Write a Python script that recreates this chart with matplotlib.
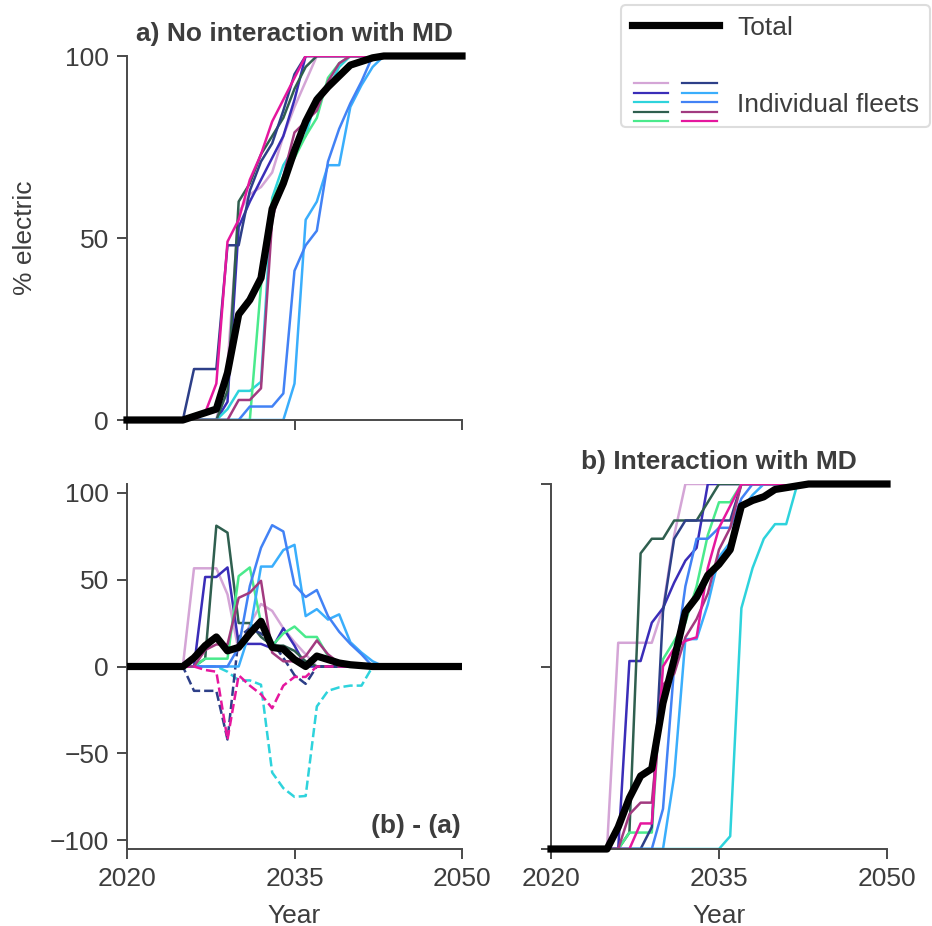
import matplotlib
matplotlib.use("Agg")
import matplotlib.pyplot as plt
import numpy as np
from matplotlib.lines import Line2D
from matplotlib.legend_handler import HandlerBase

plt.rcParams["font.family"] = ["Liberation Sans", "DejaVu Sans"]
plt.rcParams["font.size"] = 19
TEXT = "#3d3d3d"
plt.rcParams["text.color"] = TEXT
plt.rcParams["axes.labelcolor"] = TEXT
plt.rcParams["xtick.color"] = "#4a4a4a"
plt.rcParams["ytick.color"] = "#4a4a4a"
plt.rcParams["xtick.labelcolor"] = TEXT
plt.rcParams["ytick.labelcolor"] = TEXT

years = list(range(2020, 2051))

fleet_names = ["lilac", "indigo", "cyan", "darkgreen", "green",
               "navy", "lightblue", "blue", "plum", "magenta"]
fleet_colors = ["#d4a5d6", "#3a2db8", "#2ed3dc", "#2f5f4f", "#4aea8c",
                "#2d3f88", "#3aaefc", "#4282f5", "#a23a80", "#e5179e"]

# % electric per fleet, no interaction with MD (2020-2050)
no_md_lilac = [0, 0, 0, 0, 0, 0, 0, 0, 0, 15, 57, 62, 64, 68, 78, 86, 93, 100, 100, 100,
               100, 100, 100, 100, 100, 100, 100, 100, 100, 100, 100]
no_md_indigo = [0, 0, 0, 0, 0, 0, 0, 0, 0, 5, 53, 60, 66, 72, 78, 88, 100, 100, 100, 100,
                100, 100, 100, 100, 100, 100, 100, 100, 100, 100, 100]
no_md_cyan = [0, 0, 0, 0, 0, 0, 0, 0, 0, 3, 8, 8, 10.5, 61, 70, 75, 78, 89, 91, 97,
              100, 100, 100, 100, 100, 100, 100, 100, 100, 100, 100]
no_md_darkgreen = [0, 0, 0, 0, 0, 0, 0, 0, 0, 8, 60, 65, 73, 78, 83, 91, 97, 100, 100, 100,
                   100, 100, 100, 100, 100, 100, 100, 100, 100, 100, 100]
no_md_green = [0, 0, 0, 0, 0, 0, 0, 0, 0, 0, 0, 0, 37, 60, 67, 72, 78, 83, 94, 98,
               100, 100, 100, 100, 100, 100, 100, 100, 100, 100, 100]
no_md_navy = [0, 0, 0, 0, 0, 0, 14, 14, 14, 48, 48, 63, 71, 76, 85, 95, 100, 100, 100, 100,
              100, 100, 100, 100, 100, 100, 100, 100, 100, 100, 100]
no_md_lightblue = [0, 0, 0, 0, 0, 0, 0, 0, 0, 0, 0, 0, 0, 0, 0, 10, 55, 60, 70, 70,
                   86, 92, 97, 100, 100, 100, 100, 100, 100, 100, 100]
no_md_blue = [0, 0, 0, 0, 0, 0, 0, 0, 0, 0, 0, 3.7, 3.7, 3.7, 7.3, 41, 48, 52, 71, 80,
              87, 93, 100, 100, 100, 100, 100, 100, 100, 100, 100]
no_md_plum = [0, 0, 0, 0, 0, 0, 0, 0, 0, 0, 5.5, 5.5, 8.7, 55, 67, 79, 82, 85, 93, 98,
              100, 100, 100, 100, 100, 100, 100, 100, 100, 100, 100]
no_md_magenta = [0, 0, 0, 0, 0, 0, 0, 2, 10, 49, 55, 66, 73, 82, 88, 94, 100, 100, 100, 100,
                 100, 100, 100, 100, 100, 100, 100, 100, 100, 100, 100]

# % electric per fleet, with interaction with MD (2020-2050)
md_lilac = [0, 0, 0, 0, 0, 0, 56.5, 56.5, 56.5, 56.5, 66, 86, 100, 100, 100, 100, 100, 100, 100, 100,
            100, 100, 100, 100, 100, 100, 100, 100, 100, 100, 100]
md_indigo = [0, 0, 0, 0, 0, 0, 0, 51.5, 51.5, 62, 66, 73, 79, 82.5, 100, 100, 100, 100, 100, 100,
             100, 100, 100, 100, 100, 100, 100, 100, 100, 100, 100]
md_cyan = [0, 0, 0, 0, 0, 0, 0, 0, 0, 0, 0, 0, 0, 0, 0, 0, 3.5, 66, 77, 85,
           89, 89, 100, 100, 100, 100, 100, 100, 100, 100, 100]
md_darkgreen = [0, 0, 0, 0, 0, 0, 0, 4.5, 81, 85, 85, 90, 90, 90, 95, 100, 100, 100, 100, 100,
                100, 100, 100, 100, 100, 100, 100, 100, 100, 100, 100]
md_green = [0, 0, 0, 0, 0, 0, 0, 4.5, 4.5, 4.5, 52, 57, 62, 72, 86, 95, 95, 100, 100, 100,
            100, 100, 100, 100, 100, 100, 100, 100, 100, 100, 100]
md_navy = [0, 0, 0, 0, 0, 0, 0, 0, 0, 6, 65, 85, 90, 90, 90, 90, 90, 100, 100, 100,
           100, 100, 100, 100, 100, 100, 100, 100, 100, 100, 100]
md_lightblue = [0, 0, 0, 0, 0, 0, 0, 0, 0, 0, 0, 20, 57.5, 57.5, 67, 80, 84, 93, 97, 100,
                100, 100, 100, 100, 100, 100, 100, 100, 100, 100, 100]
md_blue = [0, 0, 0, 0, 0, 0, 0, 0, 0, 0, 11, 50, 72, 85, 85, 88, 88, 96, 100, 100,
           100, 100, 100, 100, 100, 100, 100, 100, 100, 100, 100]
md_plum = [0, 0, 0, 0, 0, 0, 0, 9.5, 12.7, 12.7, 45, 48, 58, 63, 70, 82, 88, 100, 100, 100,
           100, 100, 100, 100, 100, 100, 100, 100, 100, 100, 100]
md_magenta = [0, 0, 0, 0, 0, 0, 0, 0, 7, 7, 50, 55, 57, 58, 77, 88, 94, 100, 100, 100,
              100, 100, 100, 100, 100, 100, 100, 100, 100, 100, 100]

# % electric across all fleets
total_no_md = [0, 0, 0, 0, 0, 0, 1, 2, 3, 13, 29, 33, 39, 58, 65, 74, 82, 88, 91.5, 94.5,
               97.5, 98.5, 99.5, 100, 100, 100, 100, 100, 100, 100, 100]
total_md = [0, 0, 0, 0, 0, 0, 6, 14, 20, 22, 40, 52, 65, 69, 75, 78, 82, 94, 95.5, 96.5,
            98.5, 99, 99.5, 100, 100, 100, 100, 100, 100, 100, 100]

no_md = np.array([no_md_lilac, no_md_indigo, no_md_cyan, no_md_darkgreen, no_md_green,
                  no_md_navy, no_md_lightblue, no_md_blue, no_md_plum, no_md_magenta], float)
md = np.array([md_lilac, md_indigo, md_cyan, md_darkgreen, md_green,
               md_navy, md_lightblue, md_blue, md_plum, md_magenta], float)
diff = md - no_md
total_diff = np.array(total_md, float) - np.array(total_no_md, float)

W, H = 932, 926
fig = plt.figure(figsize=(W / 100, H / 100), dpi=100)


def frac(left, top, right, bottom):
    return [left / W, 1 - bottom / H, (right - left) / W, (bottom - top) / H]


ax_a = fig.add_axes(frac(127, 56, 462, 420))
ax_d = fig.add_axes(frac(127, 484, 462, 849))
ax_b = fig.add_axes(frac(551, 484, 887, 849))

FLEET_LW = 1.8
TOTAL_LW = 5.2

for i, c in enumerate(fleet_colors):
    ax_a.plot(years, no_md[i], color=c, lw=FLEET_LW, zorder=2)
    ax_b.plot(years, md[i], color=c, lw=FLEET_LW, zorder=2)
    # fleets that lose out overall from the interaction are drawn dashed
    style = "--" if diff[i].sum() < 0 else "-"
    ax_d.plot(years, diff[i], color=c, lw=FLEET_LW, ls=style, zorder=2)

ax_a.plot(years, total_no_md, color="black", lw=TOTAL_LW, zorder=5, clip_on=False)
ax_b.plot(years, total_md, color="black", lw=TOTAL_LW, zorder=5, clip_on=False)
ax_d.plot(years, total_diff, color="black", lw=TOTAL_LW, zorder=5)

for ax in (ax_a, ax_d, ax_b):
    ax.set_xlim(2020, 2050)
    ax.set_xticks([2020, 2035, 2050])
    for s in ("top", "right"):
        ax.spines[s].set_visible(False)
    for s in ("left", "bottom"):
        ax.spines[s].set_color("#4a4a4a")
        ax.spines[s].set_linewidth(1.4)
    ax.tick_params(length=7, width=1.4, pad=6)

ax_a.set_ylim(0, 100)
ax_a.set_yticks([0, 50, 100])
ax_a.tick_params(axis="x", labelbottom=False)
ax_a.set_ylabel("% electric")
ax_a.yaxis.set_label_coords(-0.27, 0.5)
ax_a.set_title("a) No interaction with MD", fontweight="bold", fontsize=19, pad=11)

ax_b.set_ylim(0, 100)
ax_b.set_yticks([0, 50, 100])
ax_b.tick_params(axis="y", labelleft=False)
ax_b.set_title("b) Interaction with MD", fontweight="bold", fontsize=19, pad=11)
ax_b.set_xlabel("Year", labelpad=9)

ax_d.set_ylim(-105, 105)
ax_d.set_yticks([-100, -50, 0, 50, 100])
ax_d.set_xlabel("Year", labelpad=9)
ax_d.text(0.995, 0.03, "(b) - (a)", transform=ax_d.transAxes, ha="right", va="bottom",
          fontweight="bold", fontsize=19)


class FleetGrid(HandlerBase):
    """Draws one short line per fleet, arranged in two columns."""

    def __init__(self, colors, **kw):
        super().__init__(**kw)
        self.colors = colors

    def create_artists(self, legend, orig_handle, xdescent, ydescent,
                       width, height, fontsize, trans):
        nrow = (len(self.colors) + 1) // 2
        seg = width * 0.40
        gap = width - 2 * seg - width * 0.04
        cy = height / 2 - ydescent
        step = 0.36 * fontsize
        arts = []
        for k, c in enumerate(self.colors):
            col, row = divmod(k, nrow)
            x0 = -xdescent + width * 0.02 + col * (seg + gap)
            y = cy + (nrow // 2 - row) * step
            arts.append(Line2D([x0, x0 + seg], [y, y], color=c, lw=1.6, transform=trans))
        return arts


total_handle = Line2D([], [], color="black", lw=TOTAL_LW)
blank_handle = Line2D([], [], color="none")
fleet_handle = Line2D([], [])
leg = fig.legend([total_handle, blank_handle, fleet_handle],
                 ["Total", " ", "Individual fleets"],
                 loc="upper right", bbox_to_anchor=(930 / W, 1 - 5 / H),
                 borderaxespad=0.0,
                 handlelength=3.3, handletextpad=0.7, labelspacing=0.55,
                 borderpad=0.4, fontsize=19, frameon=True, fancybox=True,
                 handler_map={fleet_handle: FleetGrid(fleet_colors)})
leg.get_frame().set_edgecolor("#d5d5d5")
leg.get_frame().set_linewidth(1.5)

fig.savefig("out.png", dpi=100)
